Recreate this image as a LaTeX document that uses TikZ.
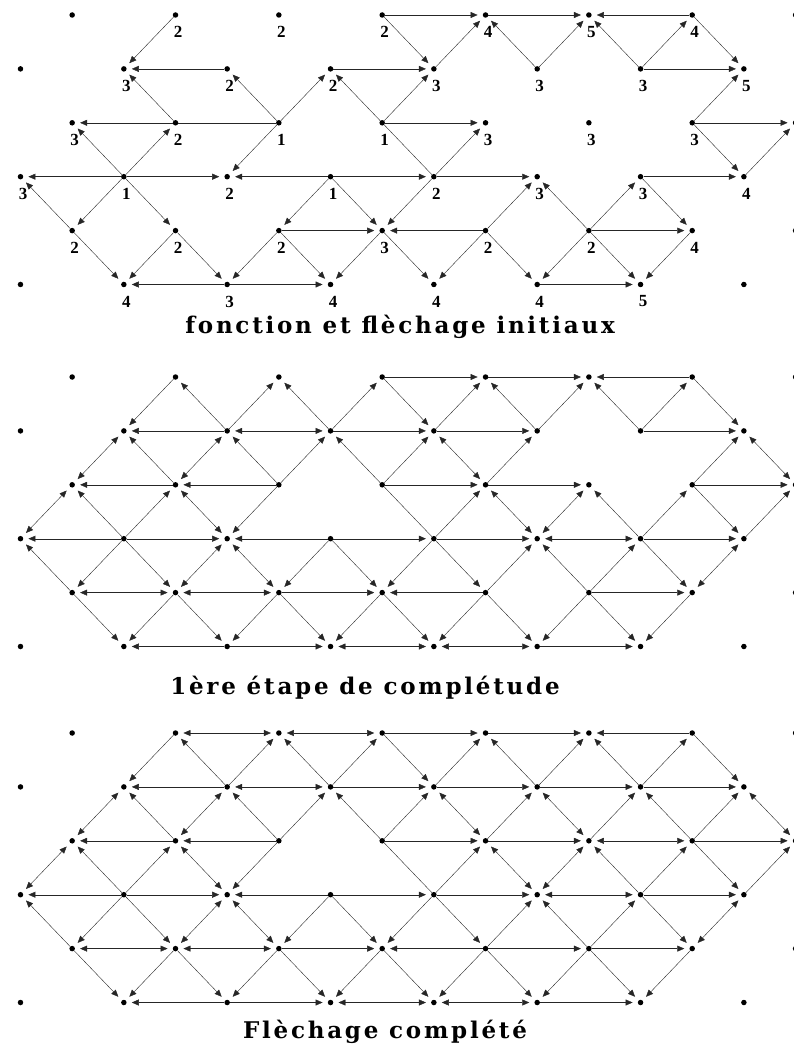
\documentclass[tikz,border=0pt]{standalone}
\usepackage{fontspec}
\setmainfont{DejaVu Serif}
\newfontfamily\valfont{Liberation Serif}
\newfontfamily\capfont[LetterSpace=12]{DejaVu Serif}
\usetikzlibrary{arrows.meta}

\tikzset{
  pt/.style={circle,fill=black,inner sep=0pt,minimum size=5.5pt},
  one/.style={draw=black!85,-{Triangle[length=7pt,width=6pt]},shorten >=5pt},
  two/.style={draw=black!85,{Triangle[length=7pt,width=6pt]}-{Triangle[length=7pt,width=6pt]},shorten >=5pt,shorten <=5pt},
  bare/.style={draw=black!85,-},
  val/.style={font=\valfont\bfseries\fontsize{17}{17}\selectfont,inner sep=0pt},
  caption/.style={font=\capfont\bfseries\fontsize{23}{23}\selectfont,inner sep=0pt}
}

% edges shared by the three drawings (rows 4 and 5)
\def\edgesLow{1-4/2-5/one,3-4/2-5/one,3-4/4-5/one,5-4/4-5/one,5-4/6-5/one,7-4/6-5/one,
  7-4/8-5/one,9-4/8-5/one,9-4/10-5/one,11-4/10-5/one,11-4/12-5/one,13-4/12-5/one,
  4-5/2-5/one,4-5/6-5/one,10-5/12-5/one}

\def\edgesA{3-0/2-1/one,7-0/9-0/one,7-0/8-1/one,8-1/9-0/one,10-1/9-0/one,9-0/11-0/one,
  13-0/11-0/one,10-1/11-0/one,12-1/11-0/one,12-1/13-0/one,13-0/14-1/one,
  4-1/2-1/one,6-1/8-1/one,12-1/14-1/one,
  3-2/2-1/one,5-2/4-1/one,5-2/6-1/one,7-2/6-1/one,7-2/8-1/one,13-2/14-1/one,
  3-2/1-2/one,5-2/3-2/bare,7-2/9-2/one,13-2/15-2/one,
  2-3/1-2/one,2-3/3-2/one,5-2/4-3/one,7-2/8-3/bare,8-3/9-2/one,13-2/14-3/one,14-3/15-2/one,
  2-3/0-3/one,2-3/4-3/one,6-3/4-3/one,6-3/8-3/one,8-3/10-3/one,12-3/14-3/one,
  1-4/0-3/one,2-3/1-4/one,2-3/3-4/one,6-3/5-4/one,6-3/7-4/one,8-3/7-4/one,
  9-4/10-3/one,11-4/10-3/one,11-4/12-3/one,12-3/13-4/one,
  5-4/7-4/one,9-4/7-4/one,11-4/13-4/one}

\def\edgesB{3-0/2-1/one,4-1/3-0/one,4-1/5-0/one,6-1/5-0/one,6-1/7-0/one,7-0/8-1/one,
  7-0/9-0/one,9-0/11-0/one,13-0/11-0/one,8-1/9-0/one,10-1/9-0/one,10-1/11-0/one,
  12-1/11-0/one,12-1/13-0/one,13-0/14-1/one,
  4-1/2-1/one,4-1/6-1/two,6-1/8-1/one,8-1/10-1/one,12-1/14-1/one,
  1-2/2-1/two,3-2/2-1/one,3-2/4-1/two,5-2/4-1/one,5-2/6-1/one,7-2/6-1/one,7-2/8-1/one,
  8-1/9-2/two,9-2/10-1/one,13-2/14-1/one,14-1/15-2/two,
  3-2/1-2/one,5-2/3-2/one,7-2/9-2/one,9-2/11-2/one,13-2/15-2/one,
  0-3/1-2/two,2-3/1-2/one,2-3/3-2/one,3-2/4-3/two,5-2/4-3/one,7-2/8-3/bare,8-3/9-2/one,
  9-2/10-3/two,10-3/11-2/two,12-3/11-2/one,12-3/13-2/one,13-2/14-3/one,14-3/15-2/one,
  2-3/0-3/one,2-3/4-3/one,6-3/4-3/one,6-3/8-3/one,8-3/10-3/one,10-3/12-3/two,12-3/14-3/one,
  1-4/0-3/one,2-3/1-4/one,2-3/3-4/one,3-4/4-3/two,4-3/5-4/two,6-3/5-4/one,6-3/7-4/one,
  8-3/7-4/one,8-3/9-4/one,9-4/10-3/one,11-4/10-3/one,11-4/12-3/one,12-3/13-4/one,
  13-4/14-3/two,1-4/3-4/two,3-4/5-4/two,5-4/7-4/one,9-4/7-4/one,11-4/13-4/one,
  6-5/8-5/two,8-5/10-5/two}

\def\edgesC{3-0/5-0/two,5-0/7-0/two,10-1/12-1/one,10-1/11-2/two,11-2/12-1/one,
  13-2/12-1/one,11-2/13-2/two,9-4/11-4/one}

\begin{document}
\begin{tikzpicture}[x=51.67pt,y=-53.9pt]
\useasboundingbox (-20.5pt,15pt) rectangle (773.5pt,-1033pt);

% lattice points of the three drawings
\foreach \p/\dy in {A/0,B/362,C/718}{
  \foreach \j in {0,...,5}{
    \foreach \k in {0,...,7}{
      \pgfmathtruncatemacro\i{2*\k+1-mod(\j,2)}
      \node[pt,yshift=-\dy pt] (\p-\i-\j) at (\i,\j) {};
    }
  }
}

% initial function
\foreach \i/\j/\v in {3/0/2,5/0/2,7/0/2,9/0/4,11/0/5,13/0/4,
  2/1/3,4/1/2,6/1/2,8/1/3,10/1/3,12/1/3,14/1/5,
  1/2/3,3/2/2,5/2/1,7/2/1,9/2/3,11/2/3,13/2/3,15/2/5,
  0/3/3,2/3/1,4/3/2,6/3/1,8/3/2,10/3/3,12/3/3,14/3/4,
  1/4/2,3/4/2,5/4/2,7/4/3,9/4/2,11/4/2,13/4/4,
  2/5/4,4/5/3,6/5/4,8/5/4,10/5/4,12/5/5}
  \node[val] (v-\i-\j) at ([xshift=2.5pt,yshift=-17pt]A-\i-\j) {\v};

% arrows
\foreach \a/\b/\s in \edgesA {\draw[\s] (A-\a) -- (A-\b);}
\foreach \a/\b/\s in \edgesLow {\draw[\s] (A-\a) -- (A-\b);}
\foreach \a/\b/\s in \edgesB {\draw[\s] (B-\a) -- (B-\b);}
\foreach \a/\b/\s in \edgesLow {\draw[\s] (B-\a) -- (B-\b);}
\foreach \a/\b/\s in \edgesB {\draw[\s] (C-\a) -- (C-\b);}
\foreach \a/\b/\s in \edgesC {\draw[\s] (C-\a) -- (C-\b);}
\foreach \a/\b/\s in \edgesLow {\draw[\s] (C-\a) -- (C-\b);}

% captions
\node[caption] (capA) at (379.5pt,-312pt) {fonction et flèchage initiaux};
\node[caption] (capB) at (344.5pt,-673pt) {1ère étape de complétude};
\node[caption] (capC) at (364.5pt,-1017pt) {Flèchage complété};
\end{tikzpicture}
\end{document}
